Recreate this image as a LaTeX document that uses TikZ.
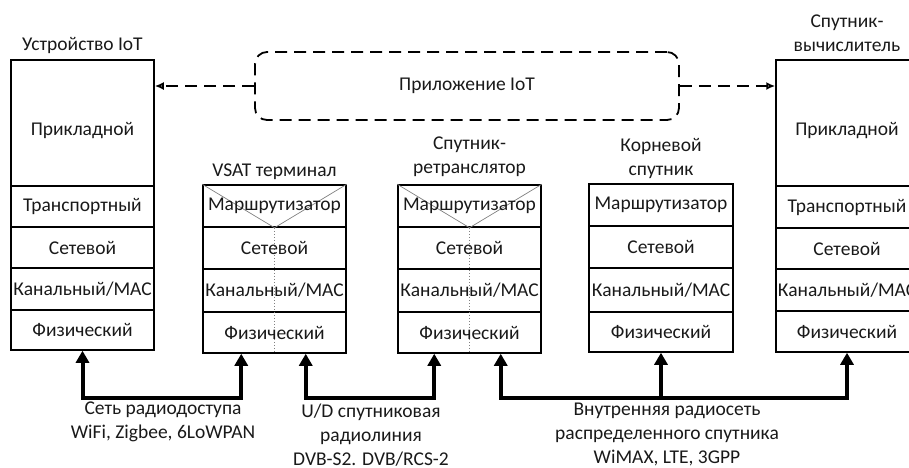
\documentclass[tikz,border=0pt]{standalone}
\usepackage{fontspec}
\setmainfont{Carlito}
\usetikzlibrary{arrows.meta,calc}
\begin{document}
\begin{tikzpicture}[x=1pt,y=-1pt,
  every node/.style={font=\fontsize{19.5}{24}\selectfont, text=black!90},
  layer/.style={draw, line width=1.5pt, inner sep=0pt, minimum width=143pt},
  txt/.style={inner sep=0pt, align=center},
  dasharrow/.style={line width=1.8pt, dash pattern=on 12pt off 7pt, -{Latex[length=9pt,width=8pt,open=false]}},
  bigarrow/.style={line width=4pt, {Triangle[length=12pt,width=13pt]}-{Triangle[length=12pt,width=13pt]}},
  bigarrowone/.style={line width=4pt, -{Triangle[length=12pt,width=13pt]}},
  xline/.style={gray, line width=0.7pt},
  dotline/.style={gray, line width=0.8pt, dash pattern=on 1.5pt off 1.5pt}
]
\useasboundingbox (0,0) rectangle (909,467);
\clip (0,0) rectangle (909,467);

% ---------- IoT device ----------
\node[txt] (tiot) at (82.5,45) {Устройство IoT};
\node[layer, minimum height=126pt] (iapp) at (82.5,123) {};
\node[txt] (iappt) at (82.5,131) {Прикладной};
\node[layer, minimum height=41pt] (itr) at (82.5,206.5) {Транспортный};
\node[layer, minimum height=41pt] (inet) at (82.5,247.5) {Сетевой};
\node[layer, minimum height=42pt] (imac) at (82.5,289) {Канальный/MAC};
\node[layer, minimum height=40pt] (ifiz) at (82.5,330) {Физический};

% ---------- VSAT terminal ----------
\node[txt] (tvsat) at (274.5,172) {VSAT терминал};
\node[layer, minimum height=42pt] (vrt) at (274.5,206) {};
\node[layer, minimum height=42pt] (vnet) at (274.5,248) {};
\node[layer, minimum height=43pt] (vmac) at (274.5,290.5) {};
\node[layer, minimum height=41pt] (vfiz) at (274.5,332.5) {};
\draw[xline] (vrt.north west) -- (vrt.south) -- (vrt.north east);
\draw[dotline] (vrt.south) -- (vfiz.south);
\node[txt] (vrtt) at (vrt) {Маршрутизатор};
\node[txt] (vnett) at (vnet) {Сетевой};
\node[txt] (vmact) at (vmac) {Канальный/MAC};
\node[txt] (vfizt) at (vfiz) {Физический};

% ---------- Relay satellite ----------
\node[txt] (trel) at (469.5,157) {Спутник-\\ретранслятор};
\node[layer, minimum height=42pt] (rrt) at (469.5,206) {};
\node[layer, minimum height=42pt] (rnet) at (469.5,248) {};
\node[layer, minimum height=43pt] (rmac) at (469.5,290.5) {};
\node[layer, minimum height=41pt] (rfiz) at (469.5,332.5) {};
\draw[xline] (rrt.north west) -- (rrt.south) -- (rrt.north east);
\draw[dotline] (rrt.south) -- (rfiz.south);
\node[txt] (rrtt) at (rrt) {Маршрутизатор};
\node[txt] (rnett) at (rnet) {Сетевой};
\node[txt] (rmact) at (rmac) {Канальный/MAC};
\node[txt] (rfizt) at (rfiz) {Физический};

% ---------- Root satellite ----------
\node[txt] (troot) at (661,158.5) {Корневой\\спутник};
\node[layer, minimum width=144pt, minimum height=42pt] (ort) at (661,205) {Маршрутизатор};
\node[layer, minimum width=144pt, minimum height=42pt] (onet) at (661,247) {Сетевой};
\node[layer, minimum width=144pt, minimum height=44pt] (omac) at (661,290) {Канальный/MAC};
\node[layer, minimum width=144pt, minimum height=40pt] (ofiz) at (661,332) {Физический};

% ---------- Computing satellite ----------
\node[txt] (tcomp) at (847,33.5) {Спутник-\\вычислитель};
\node[layer, minimum width=142pt, minimum height=126pt] (capp) at (847,123) {};
\node[txt] (cappt) at (847,131) {Прикладной};
\node[layer, minimum width=142pt, minimum height=42pt] (ctr) at (847,207) {Транспортный};
\node[layer, minimum width=142pt, minimum height=41pt] (cnet) at (847,248.5) {Сетевой};
\node[layer, minimum width=142pt, minimum height=42pt] (cmac) at (847,290) {Канальный/MAC};
\node[layer, minimum width=142pt, minimum height=41pt] (cfiz) at (847,331.5) {Физический};

% ---------- IoT application ----------
\node[draw, line width=1.8pt, dash pattern=on 12pt off 7pt, rounded corners=12pt,
      minimum width=424pt, minimum height=68pt, inner sep=0pt] (app) at (467,86) {Приложение IoT};
\draw[dasharrow] (app.west) -- (app.west -| iapp.east);
\draw[dasharrow] (app.east) -- (app.east -| capp.west);

% ---------- Radio links ----------
\coordinate (bus) at (0,398);
\coordinate (va) at ($(vfiz.south west)+(39,0)$);
\coordinate (vb) at ($(vfiz.south east)+(-41,0)$);
\coordinate (ra) at ($(rfiz.south west)+(37,0)$);
\coordinate (rb) at ($(rfiz.south east)+(-41,0)$);
\draw[bigarrow] (ifiz.south) -- (ifiz.south |- bus) -| (va);
\draw[bigarrow] (vb) -- (vb |- bus) -| (ra);
\draw[bigarrow] (rb) -- (rb |- bus) -| (cfiz.south);
\draw[bigarrowone] (ofiz.south |- bus) -- (ofiz.south);

\node[txt] (l1) at (163,421.5) {Сеть радиодоступа\\WiFi, Zigbee, 6LoWPAN};
\node[txt] (l2) at (371,435) {U/D спутниковая\\радиолиния\\DVB-S2. DVB/RCS-2};
\node[txt] (l3) at (667,434.5) {Внутренняя радиосеть\\распределенного спутника\\WiMAX, LTE, 3GPP};
\end{tikzpicture}
\end{document}
